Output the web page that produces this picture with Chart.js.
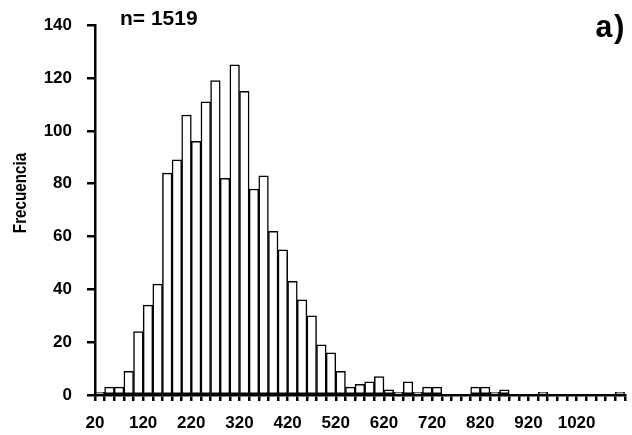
<!DOCTYPE html>
<html>
<head>
<meta charset="utf-8">
<script src="https://cdn.jsdelivr.net/npm/chart.js@4/dist/chart.umd.min.js"></script>
<style>
  body { margin: 0; background: #fff; }
  canvas { display: block; }
</style>
</head>
<body>
<canvas id="hist" width="632" height="435"></canvas>
<script>
// bin lower edges
const bins = ['20','40','60','80','100','120','140','160','180','200',
  '220','240','260','280','300','320','340','360','380','400',
  '420','440','460','480','500','520','540','560','580','600',
  '620','640','660','680','700','720','740','760','780','800',
  '820','840','860','880','900','920','940','960','980','1000',
  '1020','1040','1060','1080','1100'];

const frecuencia = [1,3,3,9,24,34,42,84,89,106,
  96,111,119,82,125,115,78,83,62,55,
  43,36,30,19,16,9,3,4,5,7,
  2,1,5,1,3,3,0,0,0,3,
  3,1,2,0,0,0,1,0,0,0,
  0,0,0,0,1];

const shownLabels = ['20','120','220','320','420','520','620','720','820','920','1020'];
const yTicks = { min: 0, max: 140, step: 20 };
const yTitle = 'Frecuencia';
const nText = 'n= 1519';
const panelText = 'a)';

const boldFont = (size) => ({ family: 'Arial, "Liberation Sans", sans-serif', size: size, weight: 'bold' });

// extra texts: n, panel letter and a narrow y title
const textPlugin = {
  id: 'panelText',
  afterDraw(chart) {
    const ctx = chart.ctx;
    ctx.save();
    ctx.fillStyle = '#000';
    ctx.font = 'bold 21px Arial, "Liberation Sans", sans-serif';
    ctx.textAlign = 'left';
    ctx.textBaseline = 'alphabetic';
    ctx.fillText(nText, 120, 25);

    ctx.font = 'bold 31px "Courier New", "Liberation Mono", monospace';
    ctx.letterSpacing = '-4px';
    ctx.textAlign = 'right';
    ctx.fillText(panelText, 624, 37);
    ctx.letterSpacing = '0px';

    ctx.translate(26, 193);
    ctx.rotate(-Math.PI / 2);
    ctx.scale(0.8, 1);
    ctx.font = 'bold 19px Arial, "Liberation Sans", sans-serif';
    ctx.textAlign = 'center';
    ctx.fillText(yTitle, 0, 0);
    ctx.restore();
  }
};

new Chart(document.getElementById('hist').getContext('2d'), {
  type: 'bar',
  data: {
    labels: bins,
    datasets: [{
      data: frecuencia,
      backgroundColor: '#fff',
      borderColor: '#000',
      borderWidth: 1.5,
      borderSkipped: false,
      categoryPercentage: 1,
      barPercentage: 1
    }]
  },
  options: {
    responsive: false,
    animation: false,
    events: [],
    layout: { padding: { top: 18, right: 3, left: 0, bottom: 0 } },
    plugins: { legend: { display: false }, tooltip: { enabled: false } },
    scales: {
      x: {
        afterFit(scale) { scale.height = 40; },
        border: { color: '#000', width: 2.5 },
        grid: { drawOnChartArea: false, drawTicks: true, tickLength: 6, color: '#000', lineWidth: 2.5, offset: true },
        ticks: {
          autoSkip: false,
          maxRotation: 0,
          padding: 12,
          labelOffset: -4.85,
          color: '#000',
          font: boldFont(17),
          callback(value) {
            const lab = this.getLabelForValue(value);
            return shownLabels.includes(lab) ? lab : '';
          }
        }
      },
      y: {
        min: yTicks.min,
        max: yTicks.max,
        afterFit(scale) { scale.width = 95; },
        border: { color: '#000', width: 2.5 },
        grid: { drawOnChartArea: false, drawTicks: true, tickLength: 8, color: '#000', lineWidth: 2.5 },
        ticks: { stepSize: yTicks.step, padding: 15, color: '#000', font: boldFont(17) }
      }
    }
  },
  plugins: [textPlugin]
});
</script>
</body>
</html>
